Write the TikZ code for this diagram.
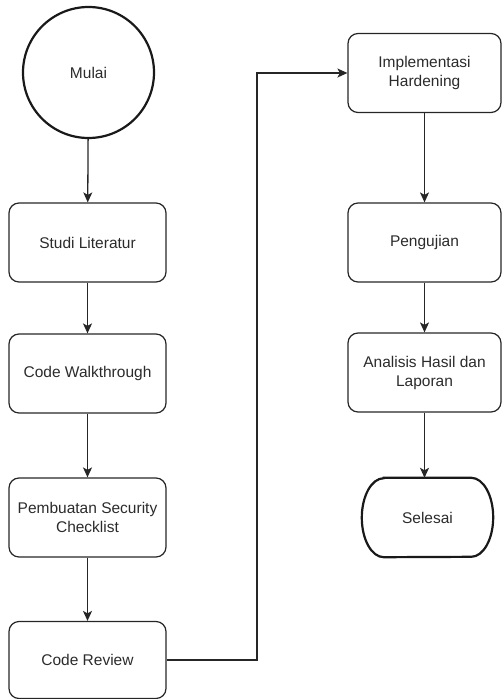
\documentclass[tikz,border=0pt]{standalone}
\usepackage{fontspec}
\setmainfont{Liberation Sans}
\usetikzlibrary{arrows.meta}
\definecolor{txt}{HTML}{2B2B2B}
\begin{document}
\begin{tikzpicture}[x=1pt,y=1pt,
  every node/.style={font=\fontsize{15.5}{19}\selectfont, text=txt, align=center},
  procbox/.style={draw=black!85, line width=1.2pt, rectangle, rounded corners=10pt,
     minimum width=157pt, minimum height=79pt, inner sep=0pt},
  flow/.style={draw=black!85, line width=1.3pt, -{Stealth[length=10pt,width=9pt,inset=2.5pt]}}
]
\useasboundingbox (0,0) rectangle (502,-699);

% left column
\node[draw=black!90, circle, line width=2.2pt, minimum size=131pt, inner sep=0pt] (mulai) at (88.5,-72.5) {Mulai};
\node[procbox] (studi) at (87.5,-242.5) {Studi Literatur};
\node[procbox] (walk) at (87.5,-373.5) {Code Walkthrough};
\node[procbox] (check) at (87.5,-517.5) {Pembuatan Security\\Checklist};
\node[procbox, minimum height=77pt] (review) at (87.5,-660) {Code Review};

% right column
\node[procbox, minimum width=153pt] (impl) at (424.5,-73) {Implementasi\\Hardening};
\node[procbox, minimum width=153pt] (uji) at (424.5,-242.5) {Pengujian};
\node[procbox, minimum width=153pt] (anal) at (424.5,-372.5) {Analisis Hasil dan\\Laporan};
\node[minimum width=131pt, minimum height=79pt, inner sep=0pt] (selesai) at (427.5,-517.5) {Selesai};
\draw[black!90, line width=2.2pt]
  ([xshift=22pt]selesai.north west) -- ([xshift=-22pt]selesai.north east)
  arc[start angle=90, end angle=-90, x radius=22pt, y radius=39.5pt]
  -- ([xshift=22pt]selesai.south west)
  arc[start angle=270, end angle=90, x radius=22pt, y radius=39.5pt] -- cycle;

\coordinate (bendA) at (257,-660);
\coordinate (bendB) at (257,-73);

% connectors
\draw[flow] (mulai) -- (studi);
\draw[flow] (studi) -- (walk);
\draw[flow] (walk) -- (check);
\draw[flow] (check) -- (review);
\draw[flow] (review.east) -- (bendA) -- (bendB) -- (impl.west);
\draw[flow] (impl) -- (uji);
\draw[flow] (uji) -- (anal);
\draw[flow] (anal.south) -- (anal.south |- selesai.north);
\end{tikzpicture}
\end{document}
